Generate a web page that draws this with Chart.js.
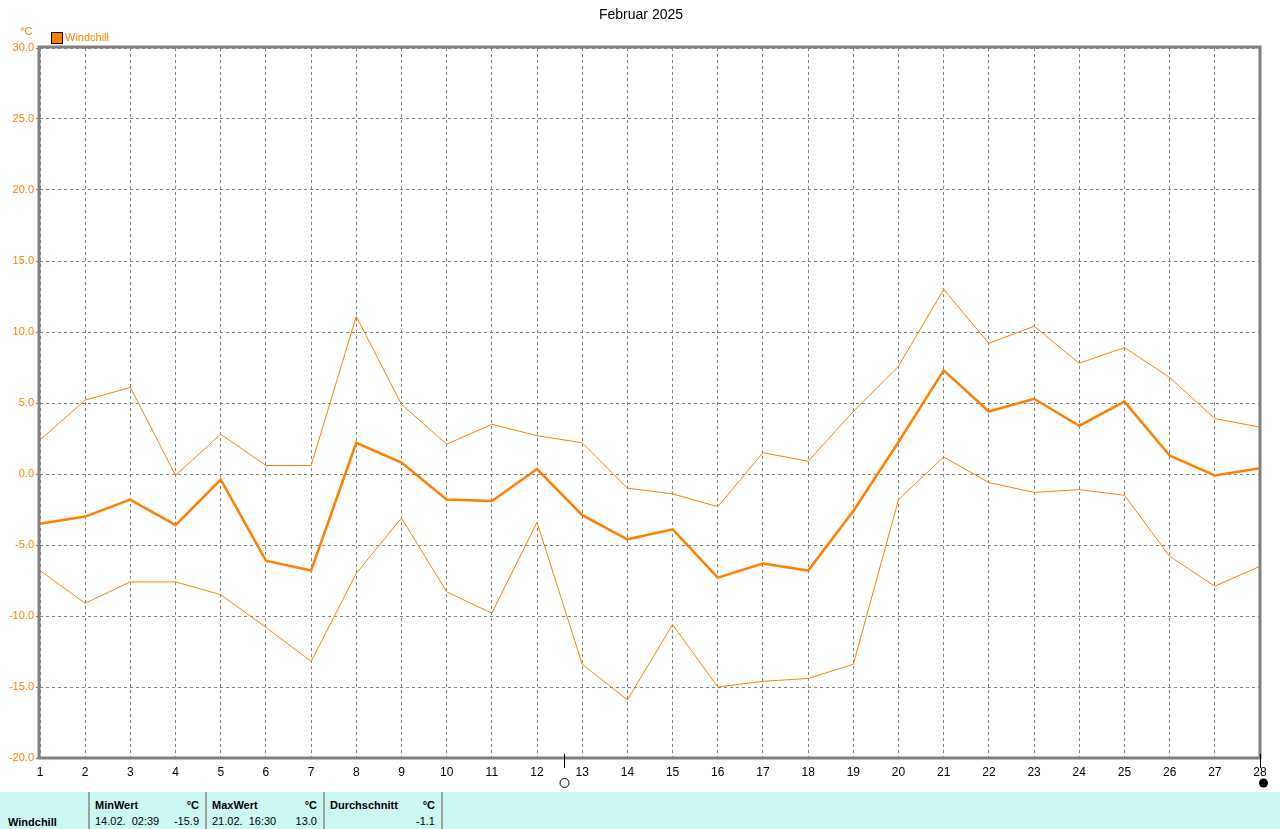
<!DOCTYPE html>
<html>
<head>
<meta charset="utf-8">
<script src="https://cdn.jsdelivr.net/npm/chart.js@4/dist/chart.umd.min.js"></script>
<style>
  body { margin: 0; background: #fff; font-family: "Liberation Sans", Arial, sans-serif; }
  #wrap { position: relative; width: 1280px; height: 829px; overflow: hidden; }
  #c { position: absolute; left: 0; top: 0; }
  #tbl { position: absolute; left: 0; top: 792px; width: 1280px; height: 37px; background: #ccf8f4; font-size: 11px; font-weight: bold; color: #000; }
  #tbl .sep { position: absolute; top: 0; width: 2px; height: 37px; background: #a0a0a0; }
  #tbl span { position: absolute; white-space: pre; }
</style>
</head>
<body>
<div id="wrap">
  <canvas id="c" width="1280" height="790"></canvas>
  <div id="tbl"></div>
</div>
<script>
// days of february
const days = [1,2,3,4,5,6,7,8,9,10,11,12,13,14,15,16,17,18,19,20,21,22,23,24,25,26,27,28]
// windchill daily max / mean / min in °C
const windMax = [2.4,5.2,6.1,-0.1,2.8,0.6,0.6,11.1,4.9,2.1,3.5,2.7,2.2,-1.0,-1.4,-2.3,1.5,0.9,4.4,7.6,13.0,9.2,10.4,7.8,8.9,6.8,3.9,3.3]
const windAvg = [-3.5,-3.0,-1.8,-3.6,-0.4,-6.1,-6.8,2.2,0.8,-1.8,-1.9,0.35,-2.9,-4.6,-3.9,-7.3,-6.3,-6.8,-2.6,2.25,7.3,4.4,5.3,3.4,5.1,1.3,-0.1,0.4]
const windMin = [-6.8,-9.1,-7.6,-7.6,-8.5,-10.8,-13.2,-7.0,-3.1,-8.3,-9.8,-3.4,-13.4,-15.9,-10.6,-15.0,-14.6,-14.4,-13.4,-1.8,1.2,-0.6,-1.3,-1.1,-1.5,-5.8,-7.9,-6.5]
// moon phases (day position, full = open circle, new = filled)
const moonDays = [12.6, 28]
const moonFull = [true, false]

const yMin = -20, yMax = 30, yStep = 5
const orange = '#ff8000'
const font = '"Liberation Sans", Arial, sans-serif'

function pts(arr) {
  return days.map((d, i) => ({ x: d, y: arr[i] }))
}

const extras = {
  id: 'extras',
  beforeDatasetsDraw(chart) {
    const ctx = chart.ctx
    ctx.save()
    ctx.fillStyle = '#000'
    ctx.font = '14px ' + font
    ctx.textAlign = 'center'
    ctx.textBaseline = 'middle'
    ctx.fillText('Februar 2025', 641, 15)
    ctx.fillStyle = orange
    ctx.font = '11px ' + font
    ctx.textAlign = 'left'
    ctx.fillText('°C', 20, 32)
    ctx.fillRect(52, 33, 10, 10)
    ctx.strokeStyle = '#000'
    ctx.lineWidth = 1
    ctx.strokeRect(51.5, 32.5, 11, 11)
    ctx.fillText('Windchill', 65, 38)
    ctx.restore()
  },
  afterDatasetsDraw(chart) {
    const ctx = chart.ctx
    const a = chart.chartArea
    const xs = chart.scales.x
    ctx.save()
    ctx.strokeStyle = '#808080'
    ctx.lineWidth = 3
    ctx.strokeRect(a.left - 1, a.top - 1, a.right - a.left + 1, a.bottom - a.top + 1)
    ctx.strokeStyle = '#000'
    ctx.fillStyle = '#000'
    ctx.lineWidth = 1
    moonDays.forEach((d, i) => {
      const px = Math.round(xs.getPixelForValue(d)) + 0.5
      ctx.beginPath()
      ctx.moveTo(px, a.bottom - 4)
      ctx.lineTo(px, a.bottom + 10)
      ctx.stroke()
      ctx.beginPath()
      ctx.arc(px + (moonFull[i] ? 0 : 3), a.bottom + 25, 4.5, 0, Math.PI * 2)
      if (moonFull[i]) ctx.stroke(); else ctx.fill()
    })
    ctx.restore()
  }
}

const lineSet = (arr, w) => ({
  data: pts(arr),
  borderColor: orange,
  borderWidth: w,
  pointRadius: 0,
  tension: 0,
  fill: false
})

new Chart(document.getElementById('c'), {
  type: 'line',
  data: {
    datasets: [lineSet(windMax, 1), lineSet(windMin, 1), lineSet(windAvg, 2.5)]
  },
  options: {
    responsive: false,
    animation: false,
    layout: { padding: { top: 48, left: 0, right: 20, bottom: 0 } },
    plugins: { legend: { display: false }, title: { display: false }, tooltip: { enabled: false } },
    scales: {
      x: {
        type: 'linear',
        min: 1,
        max: 28,
        afterFit: s => { s.height = 32 },
        ticks: { stepSize: 1, color: '#000', font: { size: 12, family: font }, padding: 7, maxRotation: 0 },
        grid: { color: '#808080', tickLength: 4, drawTicks: false },
        border: { display: false, dash: [3, 3] }
      },
      y: {
        min: yMin,
        max: yMax,
        afterFit: s => { s.width = 40 },
        ticks: { stepSize: yStep, color: orange, font: { size: 11, family: font }, padding: 2, callback: v => v.toFixed(1) },
        grid: { color: '#808080', tickLength: 4 },
        border: { display: false, dash: [3, 3] }
      }
    }
  },
  plugins: [extras]
})

// stats table at the bottom
const tbl = document.getElementById('tbl')
const seps = [88, 205, 323, 441]
seps.forEach(x => {
  const d = document.createElement('div')
  d.className = 'sep'
  d.style.left = x + 'px'
  tbl.appendChild(d)
})
const cells = [
  ['Windchill', 8, 24, 'left'],
  ['MinWert', 95, 7, 'left'], ['°C', 199, 7, 'right'],
  ['14.02.  02:39', 95, 23, 'left', true], ['-15.9', 199, 23, 'right', true],
  ['MaxWert', 212, 7, 'left'], ['°C', 317, 7, 'right'],
  ['21.02.  16:30', 212, 23, 'left', true], ['13.0', 317, 23, 'right', true],
  ['Durchschnitt', 330, 7, 'left'], ['°C', 435, 7, 'right'],
  ['-1.1', 435, 23, 'right', true]
]
cells.forEach(([t, x, y, al, normal]) => {
  const s = document.createElement('span')
  s.textContent = t
  s.style.top = y + 'px'
  if (al === 'left') s.style.left = x + 'px'
  else s.style.right = (1280 - x) + 'px'
  if (normal) s.style.fontWeight = 'normal'
  tbl.appendChild(s)
})
</script>
</body>
</html>
